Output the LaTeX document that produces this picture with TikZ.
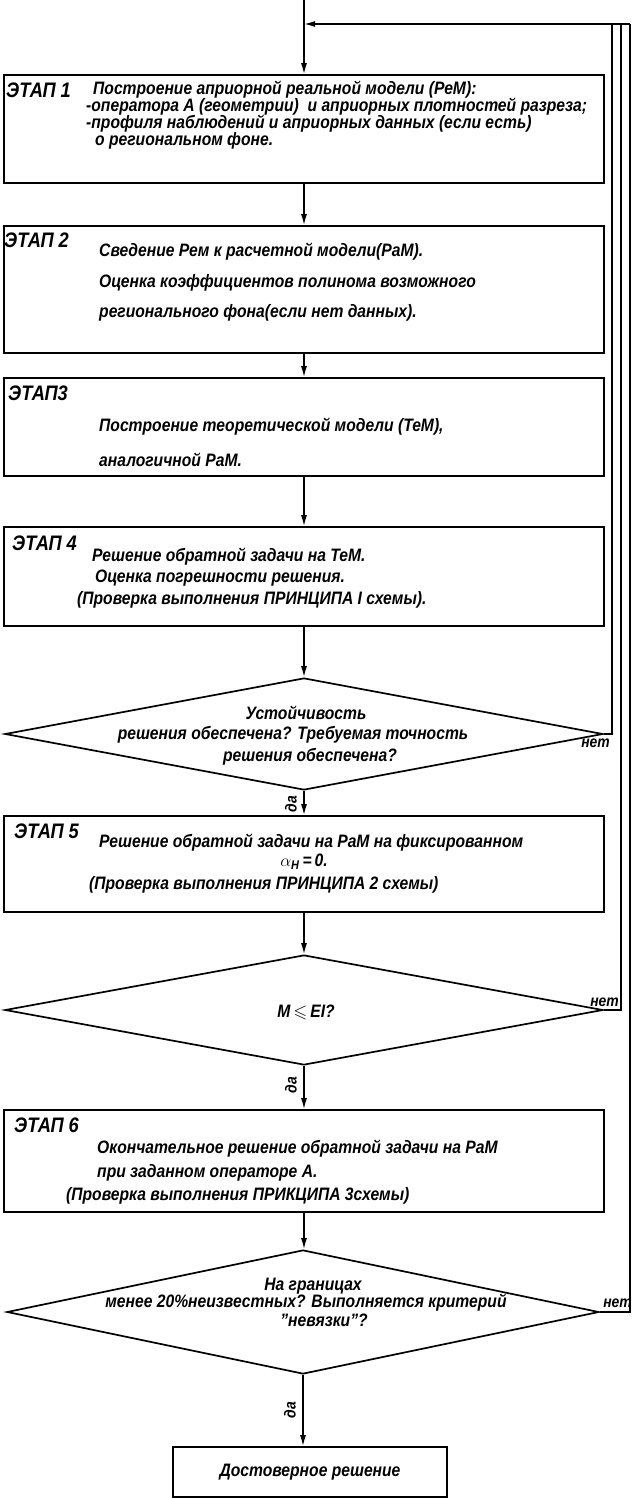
\documentclass[tikz,border=0pt]{standalone}
\usepackage{amssymb}
\usepackage{fontspec}
\setmainfont{Liberation Sans}[FakeStretch=0.87]
\usetikzlibrary{arrows.meta,shapes.geometric}
\begin{document}
\begin{tikzpicture}[x=1pt,y=-1pt,
  box/.style={draw, line width=1.7pt, rectangle, minimum width=600pt, inner sep=0pt},
  dia/.style={draw, line width=1.7pt, diamond, inner sep=0pt},
  txt/.style={font=\fontsize{18}{18}\selectfont\bfseries\itshape, inner sep=0pt},
  stg/.style={font=\fontsize{21}{21}\selectfont\bfseries\itshape, inner sep=0pt, anchor=west},
  small/.style={font=\fontsize{16}{16}\selectfont\bfseries\itshape, inner sep=0pt},
  lbl/.style={txt, anchor=west},
  ctr/.style={txt, anchor=center},
  flow/.style={line width=1.5pt, -{Latex[length=11pt,width=6pt]}},
  ret/.style={line width=1.5pt},
]
\useasboundingbox (0,0) rectangle (632,1499);

% boxes and decisions
\node[box, minimum height=108pt] (b1) at (304,129) {};
\node[box, minimum height=127pt] (b2) at (304,289.5) {};
\node[box, minimum height=98pt]  (b3) at (304,427) {};
\node[box, minimum height=99pt]  (b4) at (304,576.5) {};
\node[dia, minimum width=598pt, minimum height=112pt] (d1) at (304,734) {};
\node[box, minimum height=96pt]  (b5) at (304,864) {};
\node[dia, minimum width=598pt, minimum height=110pt] (d2) at (304,1010) {};
\node[box, minimum height=102pt] (b6) at (304,1161) {};
\node[dia, minimum width=592pt, minimum height=124pt] (d3) at (303,1312) {};
\node[box, minimum width=274pt, minimum height=50pt] (b7) at (310,1472) {};

% coordinates of the return loop
\coordinate (in) at (304,0);
\coordinate (j) at (304,24);
\coordinate (r1) at (612,24);
\coordinate (r2) at (621,24);
\coordinate (r3) at (630,24);

% connectors
\draw[flow] (in) -- (b1);
\draw[flow] (r3) -- (j);
\draw[flow] (b1) -- (b2);
\draw[flow] (b2) -- (b3);
\draw[flow] (b3) -- (b4);
\draw[flow] (b4) -- (d1);
\draw[flow] (d1) -- (b5);
\draw[flow] (b5) -- (d2);
\draw[flow] (d2) -- (b6);
\draw[flow] (b6) -- (b6 |- d3.north);
\draw[flow] (d3) -- (d3 |- b7.north);
\draw[ret] (d1.east) -| (r1);
\draw[ret] (d2.east) -| (r2);
\draw[ret] (d3.east) -| (r3);

% labels on connectors
\node[small, anchor=north east] (n1) at (610,739) {нет};
\node[small, anchor=south east] (n2) at (619,1007) {нет};
\node[small, anchor=south east] (n3) at (632,1308) {нет};
\node[small, rotate=90] (y1) at (291,804) {да};
\node[small, rotate=90] (y2) at (291,1085) {да};
\node[small, rotate=90] (y3) at (290,1410) {да};

% box 1
\node[stg] (s1) at (6,90) {ЭТАП 1};
\node[lbl] (t1a) at (93,90) {Построение априорной реальной модели (РеМ):};
\node[lbl] (t1b) at (86,107) {-оператора А (геометрии) \ и априорных плотностей разреза;};
\node[lbl] (t1c) at (86,124) {-профиля наблюдений и априорных данных (если есть)};
\node[lbl] (t1d) at (95,141) {о региональном фоне.};
% box 2
\node[stg] (s2) at (4,240) {ЭТАП 2};
\node[lbl] (t2a) at (99,252) {Сведение Рем к расчетной модели(РаМ).};
\node[lbl] (t2b) at (99,283) {Оценка коэффициентов полинома возможного};
\node[lbl] (t2c) at (99,313) {регионального фона(если нет данных).};
% box 3
\node[stg] (s3) at (8,393) {ЭТАП3};
\node[lbl] (t3a) at (99,427) {Построение теоретической модели (ТеМ),};
\node[lbl] (t3b) at (99,460) {аналогичной РаМ.};
% box 4
\node[stg] (s4) at (12,543) {ЭТАП 4};
\node[lbl] (t4a) at (92,557) {Решение обратной задачи на ТеМ.};
\node[lbl] (t4b) at (95,578) {Оценка погрешности решения.};
\node[lbl] (t4c) at (77,600) {(Проверка выполнения ПРИНЦИПА I схемы).};
% decision 1
\node[ctr] (q1a) at (306,713) {Устойчивость};
\node[ctr] (q1b) at (293,735) {решения обеспечена? Требуемая точность};
\node[ctr] (q1c) at (310,757) {решения обеспечена?};
% box 5
\node[stg] (s5) at (14,831) {ЭТАП 5};
\node[lbl] (t5a) at (99,843) {Решение обратной задачи на РаМ на фиксированном};
\node[ctr] (t5b) at (304,862) {{\LARGE$\alpha$}\textsubscript{H}\,=\,0.};
\node[lbl] (t5c) at (89,885) {(Проверка выполнения ПРИНЦИПА 2 схемы)};
% decision 2
\node[ctr] (q2) at (306,1012) {M\,$\leqslant$\,EI?};
% box 6
\node[stg] (s6) at (14,1125) {ЭТАП 6};
\node[lbl] (t6a) at (97,1149) {Окончательное решение обратной задачи на РаМ};
\node[lbl] (t6b) at (97,1173) {при заданном операторе А.};
\node[lbl] (t6c) at (66,1196) {(Проверка выполнения ПРИКЦИПА 3схемы)};
% decision 3
\node[ctr] (q3a) at (313,1286) {На границах};
\node[ctr] (q3b) at (306,1303) {менее 20\%неизвестных? Выполняется критерий};
\node[ctr] (q3c) at (324,1320) {"невязки"?};
% final
\node[ctr] (t7) at (b7) {Достоверное решение};
\end{tikzpicture}
\end{document}
